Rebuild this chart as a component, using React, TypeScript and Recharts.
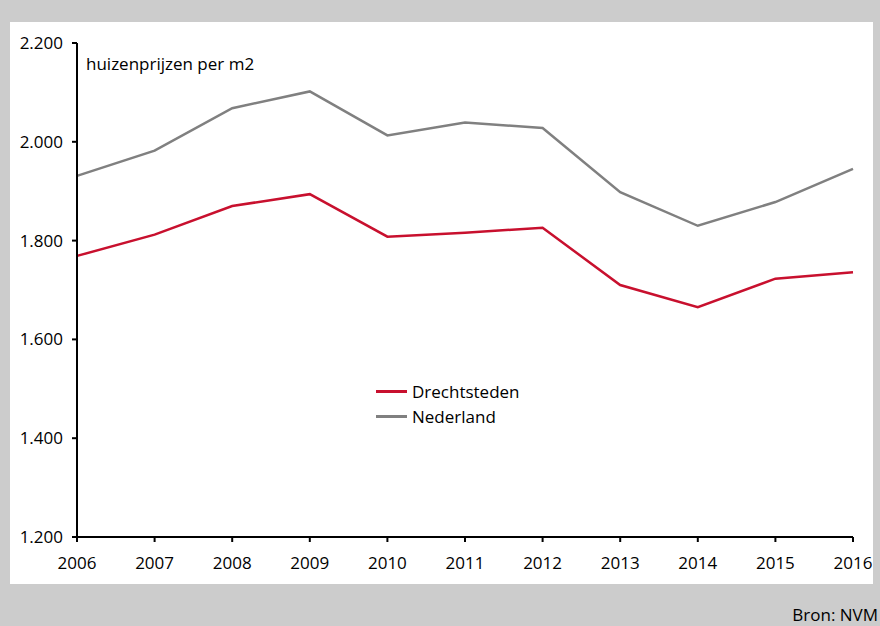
import React from 'react';
import { LineChart, Line, XAxis, YAxis } from 'recharts';

const YEARS = [2006, 2007, 2008, 2009, 2010, 2011, 2012, 2013, 2014, 2015, 2016];
const DRECHTSTEDEN = [1769, 1812, 1870, 1894, 1808, 1816, 1826, 1710, 1665, 1723, 1736];
const NEDERLAND = [1931, 1982, 2068, 2102, 2013, 2039, 2028, 1898, 1830, 1878, 1945];
const Y_TICKS = [1200, 1400, 1600, 1800, 2000, 2200];

const SERIES = [
  { key: 'drechtsteden', name: 'Drechtsteden', color: '#c8102e' },
  { key: 'nederland', name: 'Nederland', color: '#808080' },
];

const FONT = '"Open Sans", sans-serif';

const fmt = (v: number) => v.toLocaleString('nl-NL');

export default function App() {
  const data = YEARS.map((year, i) => ({
    year,
    drechtsteden: DRECHTSTEDEN[i],
    nederland: NEDERLAND[i],
  }));

  return (
    <div style={{ position: 'absolute', left: 0, top: 0, width: 880, height: 626, background: '#cccccc', fontFamily: FONT }}>
      {/* white panel */}
      <div style={{ position: 'absolute', left: 10, top: 22, width: 863, height: 562, background: '#fff' }} />
      <div style={{ position: 'absolute', left: 86, top: 52, fontSize: 17, color: '#000' }}>huizenprijzen per m2</div>
      <div style={{ position: 'absolute', right: 2, bottom: 0, fontSize: 17, color: '#000' }}>Bron: NVM</div>
      {/* legend */}
      <div style={{ position: 'absolute', left: 376, top: 379, fontSize: 17, color: '#000' }}>
        {SERIES.map(s => (
          <div key={s.key} style={{ display: 'flex', alignItems: 'center', height: 25 }}>
            <div style={{ width: 31, height: 3, background: s.color, marginRight: 5 }} />
            <span>{s.name}</span>
          </div>
        ))}
      </div>
      <div style={{ position: 'absolute', left: 0, top: 0 }}>
        <LineChart width={880} height={626} data={data} margin={{ top: 43, right: 27, bottom: 59, left: 0 }}>
          <XAxis
            dataKey="year"
            height={30}
            axisLine={{ stroke: '#000', strokeWidth: 2 }}
            tickLine={{ stroke: '#000', strokeWidth: 2 }}
            tickSize={5}
            tickMargin={15}
            tick={{ fill: '#000', fontSize: 17, fontFamily: FONT }}
            interval={0}
          />
          <YAxis
            width={77}
            domain={[1200, 2200]}
            ticks={Y_TICKS}
            tickFormatter={fmt}
            axisLine={{ stroke: '#000', strokeWidth: 2 }}
            tickLine={{ stroke: '#000', strokeWidth: 2 }}
            tickSize={5}
            tickMargin={9}
            tick={{ fill: '#000', fontSize: 17, fontFamily: FONT }}
            allowDataOverflow
          />
          {SERIES.map(s => (
            <Line
              key={s.key}
              dataKey={s.key}
              name={s.name}
              stroke={s.color}
              strokeWidth={2.5}
              dot={false}
              activeDot={false}
              isAnimationActive={false}
            />
          ))}
        </LineChart>
      </div>
    </div>
  );
}
